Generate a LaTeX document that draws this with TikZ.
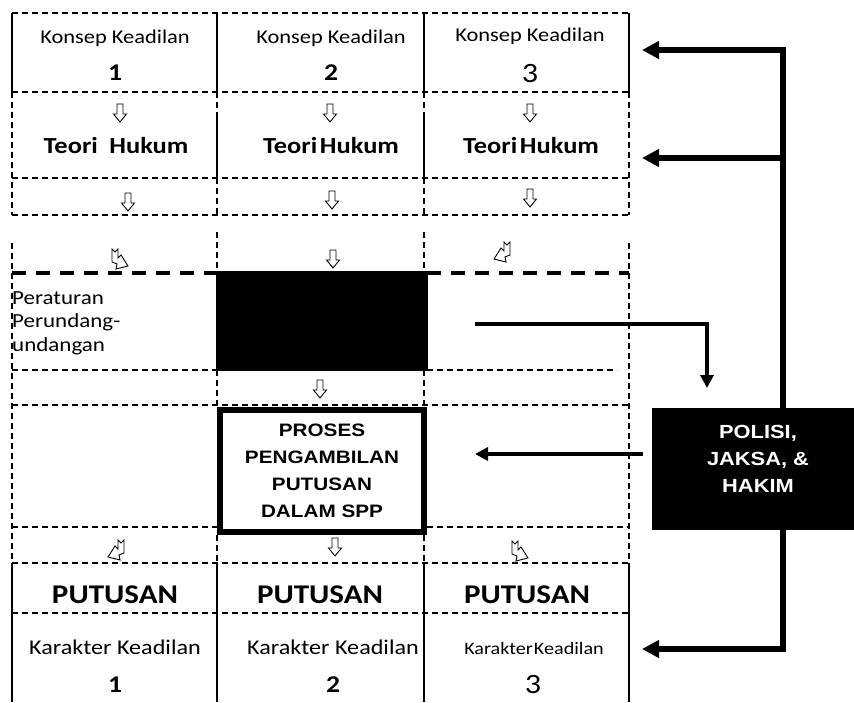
\documentclass[tikz,border=0pt]{standalone}
\usepackage{fontspec}
\setmainfont{Carlito}[FakeStretch=1.15]
\newfontfamily\arialf{Liberation Sans}[FakeStretch=1.15]
\usetikzlibrary{arrows.meta}
\newcommand{\fsz}[2]{\fontsize{#1}{#2}\selectfont}
\tikzset{
 dsh/.style={line width=1.4pt, dash pattern=on 6pt off 4pt},
 tdsh/.style={line width=4pt, dash pattern=on 14pt off 10pt},
 sld/.style={line width=1.8pt},
 lbl/.style={inner sep=0pt, anchor=base},
 bigarrow/.style={line width=6pt, line join=miter, -{Triangle[length=17pt,width=17pt]}},
 medarrow/.style={line width=4pt, line join=miter, -{Triangle[length=13pt,width=13pt]}},
 hollow/.style={line width=0.9pt, draw=black, fill=white, line join=miter},
 downarr/.pic={\draw[hollow] (-3,-9) -- (3,-9) -- (3,1) -- (6.5,1) -- (0,9) -- (-6.5,1) -- (-3,1) -- cycle;},
 bentarr/.pic={\draw[hollow] (-4,-10) -- (-1,-7) -- (2,-10) -- (2,-1) -- (5,-4) -- (12,7) -- (0,10) -- (1,5) -- (-4,3) -- cycle;}
}
\begin{document}
\begin{tikzpicture}[x=1pt,y=-1pt]
\useasboundingbox (0,0) rectangle (854,702);

% horizontal grid lines
\foreach \yy in {13,92,178,215,405,563,613}{\draw[dsh] (12,\yy) -- (629,\yy);}
\draw[tdsh] (12,273) -- (217,273);
\draw[tdsh] (427,273) -- (629,273);
\draw[dsh] (12,370) -- (217,370);
\draw[dsh] (427,370) -- (617,370);
\draw[dsh] (12,527) -- (217,527);
\draw[dsh] (427,527) -- (629,527);

% outer verticals
\foreach \xx in {12,629}{
  \draw[sld] (\xx,13) -- (\xx,92);
  \draw[dsh] (\xx,92) -- (\xx,215);
  \draw[dsh] (\xx,243) -- (\xx,563);
  \draw[sld] (\xx,563) -- (\xx,702);
}
% inner verticals
\foreach \xx in {217,424}{
  \draw[sld] (\xx,13) -- (\xx,92);
  \draw[dsh] (\xx,92) -- (\xx,113);
  \draw[sld] (\xx,113) -- (\xx,178);
  \draw[dsh] (\xx,178) -- (\xx,215);
  \draw[dsh] (\xx,232) -- (\xx,273);
  \draw[dsh] (\xx,370) -- (\xx,407);
  \draw[dsh] (\xx,535) -- (\xx,563);
  \draw[sld] (\xx,563) -- (\xx,702);
}

% boxes
\node[fill=black, draw=black, minimum width=211pt, minimum height=99pt, inner sep=0pt] (bbox) at (322,321) {};
\node[draw, fill=white, line width=6pt, minimum width=204pt, minimum height=122pt, inner sep=0pt, align=center, font=\arialf\bfseries\fsz{18}{27}] (proses) at (322,471) {PROSES\\PENGAMBILAN\\PUTUSAN\\DALAM SPP};

% right bracket connectors
\coordinate (bt) at (783,50);
\coordinate (bm) at (783,158);
\coordinate (bb) at (783,649);
\coordinate (e1) at (642,50);
\coordinate (e2) at (642,158);
\coordinate (e3) at (642,649);
\draw[bigarrow] (bb) -- (bt) -- (e1);
\draw[bigarrow] (bt) -- (bb) -- (e3);
\draw[bigarrow] (bm) -- (e2);

\node[fill=black, minimum width=202pt, minimum height=122pt, inner sep=0pt] (pbox) at (753,469) {};
\node[anchor=north, inner sep=0pt, align=center, text=white, font=\arialf\bfseries\fsz{19}{27}] (ptext) at (758,425) {POLISI,\\JAKSA, \&\\HAKIM};

% medium connectors
\coordinate (a1s) at (475,324);
\coordinate (a1c) at (707,324);
\coordinate (a1e) at (707,388);
\draw[medarrow] (a1s) -- (a1c) -- (a1e);
\coordinate (a2s) at (643,454);
\coordinate (a2e) at (475,454);
\draw[medarrow] (a2s) -- (a2e);

% texts
\node[lbl, font=\fsz{19.5}{22}] (k1) at (115,43) {Konsep Keadilan};
\node[lbl, font=\fsz{19.5}{22}] (k2) at (331,43) {Konsep Keadilan};
\node[lbl, font=\fsz{19.5}{22}] (k3) at (530,41) {Konsep Keadilan};
\node[lbl, font=\bfseries\fsz{24}{26}] (n1) at (115,80) {1};
\node[lbl, font=\bfseries\fsz{24}{26}] (n2) at (331,80) {2};
\node[lbl, font=\fsz{28}{30}] (n3) at (530,82) {3};

\node[lbl, font=\bfseries\fsz{23}{26}] (th1) at (116,153) {Teori\hspace{0.5em}Hukum};
\node[lbl, font=\bfseries\fsz{23}{26}] (th2) at (331,153) {Teori\hspace{0.12em}Hukum};
\node[lbl, font=\bfseries\fsz{23}{26}] (th3) at (531,153) {Teori\hspace{0.12em}Hukum};

\node[inner sep=0pt, anchor=north west, align=left, font=\fsz{20}{23.5}] (per) at (12,291) {Peraturan\\Perundang-\\undangan};

\node[lbl, font=\bfseries\fsz{27}{30}] (pu1) at (115,603) {PUTUSAN};
\node[lbl, font=\bfseries\fsz{27}{30}] (pu2) at (320,603) {PUTUSAN};
\node[lbl, font=\bfseries\fsz{27}{30}] (pu3) at (527,603) {PUTUSAN};

\node[lbl, font=\fsz{21}{22}] (ka1) at (115,654) {Karakter Keadilan};
\node[lbl, font=\fsz{21}{22}] (ka2) at (333,654) {Karakter Keadilan};
\node[lbl, font=\fsz{17.5}{20}] (ka3) at (534,654) {Karakter\hspace{0.06em}Keadilan};
\node[lbl, font=\bfseries\fsz{24}{26}] (m1) at (115,692) {1};
\node[lbl, font=\bfseries\fsz{24}{26}] (m2) at (333,692) {2};
\node[lbl, font=\fsz{28}{30}] (m3) at (533,693) {3};

% small hollow arrows
\pic (d11) at (120,113) {downarr};
\pic (d12) at (330,113) {downarr};
\pic (d13) at (530,113) {downarr};
\pic (d21) at (128,202) {downarr};
\pic (d22) at (332,200) {downarr};
\pic (d23) at (530,198) {downarr};
\pic (b31) at (116,259) {bentarr};
\pic (d32) at (333,259) {downarr};
\pic[xscale=-1] (b33) at (506,252) {bentarr};
\pic (d42) at (320,389) {downarr};
\pic[xscale=-1] (b51) at (120,550) {bentarr};
\pic (d52) at (335,547) {downarr};
\pic (b53) at (516,551) {bentarr};
\end{tikzpicture}
\end{document}
